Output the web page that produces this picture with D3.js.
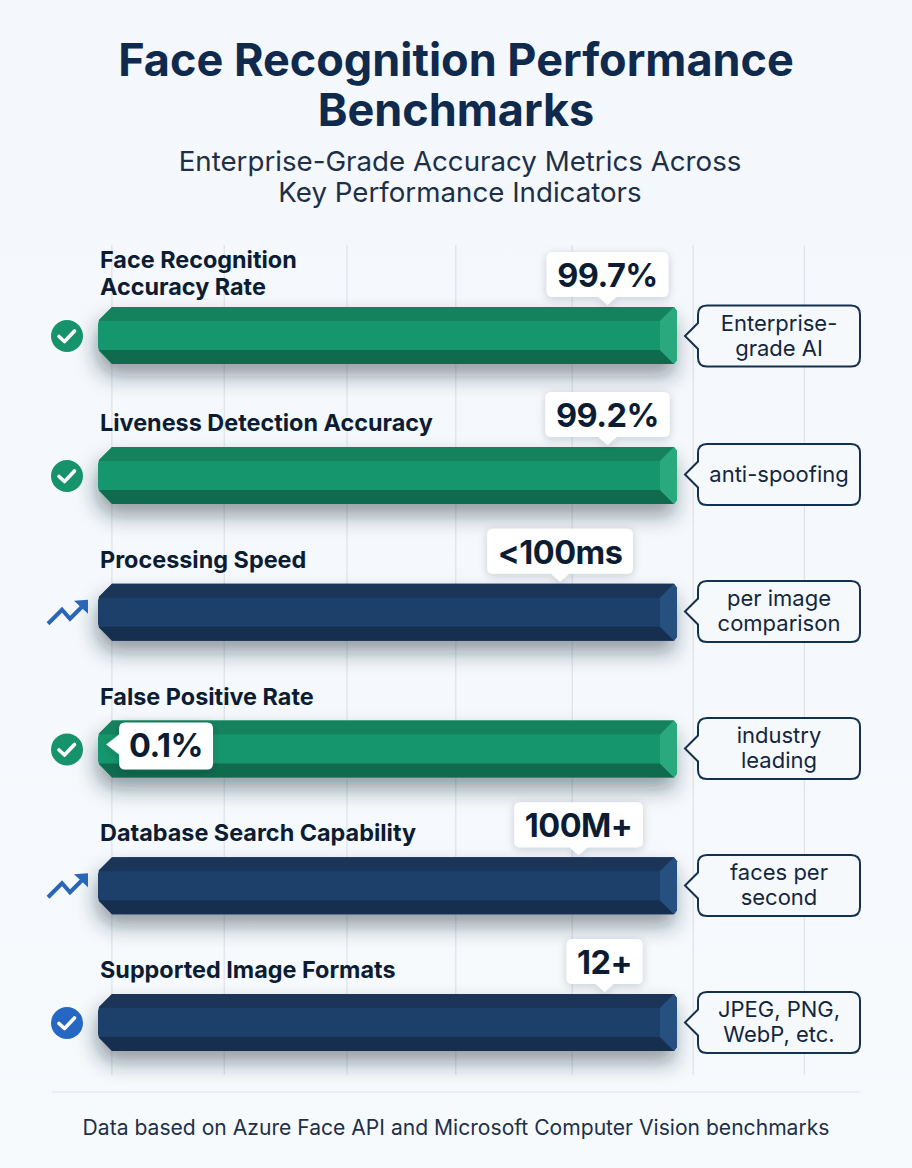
<!DOCTYPE html>
<html>
<head>
<meta charset="utf-8">
<script src="https://cdn.jsdelivr.net/npm/d3@7/dist/d3.min.js"></script>
<style>
  html, body { margin: 0; padding: 0; background: #f5f8fc; }
  svg { display: block; font-family: Inter, "Noto Sans", sans-serif; }
</style>
</head>
<body>
<div id="graph"></div>
<script>
// chart data
const titleLines = ["Face Recognition Performance", "Benchmarks"];
const subtitleLines = ["Enterprise-Grade Accuracy Metrics Across", "Key Performance Indicators"];
const categories = [
  ["Face Recognition", "Accuracy Rate"],
  ["Liveness Detection Accuracy"],
  ["Processing Speed"],
  ["False Positive Rate"],
  ["Database Search Capability"],
  ["Supported Image Formats"]
];
const barValues = [100, 100, 100, 100, 100, 100];
const valueLabels = ["99.7%", "99.2%", "<100ms", "0.1%", "100M+", "12+"];
const markerValues = [88, 88, 79.8, 1.4, 83, 87.5];
const barKinds = ["green", "green", "navy", "green", "navy", "navy"];
const iconKinds = ["checkGreen", "checkGreen", "trend", "checkGreen", "trend", "checkBlue"];
const notes = [
  ["Enterprise-", "grade AI"],
  ["anti-spoofing"],
  ["per image", "comparison"],
  ["industry", "leading"],
  ["faces per", "second"],
  ["JPEG, PNG,", "WebP, etc."]
];
const gridValues = [2.4, 21.8, 43, 61.8, 81.9, 102.8, 122];
const footerText = "Data based on Azure Face API and Microsoft Computer Vision benchmarks";

const width = 912, height = 1168;
const barHeight = 57, bevel = 14;

const x = d3.scaleLinear().domain([0, 100]).range([98, 677]);
const y = d3.scaleLinear().domain([0, 1, 5]).range([307, 447, 994]); // first gap is a bit wider
const yNote = d3.scaleLinear().domain([0, 1, 5]).range([336, 474.5, 1022.5]); // note boxes are spaced on their own

const colors = {
  green: { top: "#15825e", mid: "#17966c", bottom: "#0f6a4e", cap: "#2aa97f" },
  navy: { top: "#1b3558", mid: "#1e3f69", bottom: "#172f4f", cap: "#25507f" }
};
const ink = "#0f2a4d";

const svg = d3.select("#graph").append("svg")
  .attr("width", width)
  .attr("height", height)
  .attr("viewBox", [0, 0, width, height]);

const defs = svg.append("defs");
const bg = defs.append("linearGradient").attr("id", "bg")
  .attr("x1", 0).attr("y1", 0).attr("x2", 0).attr("y2", 1);
bg.append("stop").attr("offset", "0%").attr("stop-color", "#f4f7fb");
bg.append("stop").attr("offset", "100%").attr("stop-color", "#f7fafd");

const barShadow = defs.append("filter").attr("id", "barShadow")
  .attr("x", "-10%").attr("y", "-40%").attr("width", "120%").attr("height", "240%");
barShadow.append("feDropShadow").attr("dx", -2).attr("dy", 12).attr("stdDeviation", 10)
  .attr("flood-color", "#1c2a3c").attr("flood-opacity", 0.45);

const boxShadow = defs.append("filter").attr("id", "boxShadow")
  .attr("x", "-30%").attr("y", "-40%").attr("width", "160%").attr("height", "190%");
boxShadow.append("feDropShadow").attr("dx", 0).attr("dy", 2).attr("stdDeviation", 4)
  .attr("flood-color", "#10233c").attr("flood-opacity", 0.2);

svg.append("rect").attr("width", width).attr("height", height).attr("fill", "url(#bg)");

// title block
svg.append("g").selectAll("text").data(titleLines).join("text")
  .attr("x", width / 2)
  .attr("y", (d, i) => 76 + i * 50)
  .attr("text-anchor", "middle")
  .attr("font-size", 45)
  .attr("font-weight", 700)
  .attr("fill", ink)
  .text(d => d);

svg.append("g").selectAll("text").data(subtitleLines).join("text")
  .attr("x", width / 2 + 4)
  .attr("y", (d, i) => 171 + i * 31)
  .attr("text-anchor", "middle")
  .attr("font-size", 27.7)
  .attr("fill", "#1d3047")
  .text(d => d);

// background grid
svg.append("g").selectAll("line").data(gridValues).join("line")
  .attr("x1", d => x(d)).attr("x2", d => x(d))
  .attr("y1", 245).attr("y2", 1075)
  .attr("stroke", "#dde2e9")
  .attr("stroke-width", 1.2);

const rows = categories.map((c, i) => ({
  label: c,
  value: barValues[i],
  text: valueLabels[i],
  marker: markerValues[i],
  kind: barKinds[i],
  icon: iconKinds[i],
  note: notes[i],
  noteY: yNote(i),
  top: y(i)
}));

const row = svg.append("g").selectAll("g").data(rows).join("g")
  .attr("transform", d => `translate(0,${d.top})`);

// bars: flat face plus bevels
row.each(function(d) {
  const g = d3.select(this);
  const c = colors[d.kind];
  const x0 = x(0), x1 = x(d.value);
  const h = barHeight, b = bevel;
  const pts = p => p.map(q => q.join(",")).join(" ");
  const bar = g.append("g").attr("filter", "url(#barShadow)");
  bar.append("polygon").attr("fill", c.mid)
    .attr("points", pts([[x0 + b, 0], [x1 - 3, 0], [x1, 4], [x1, h - 4], [x1 - 3, h], [x0 + b, h], [x0 + 1, h - b + 1], [x0, h - b - 3], [x0, b + 3], [x0 + 1, b - 1]]));
  g.append("polygon").attr("fill", c.top)
    .attr("points", pts([[x0 + 1, b - 1], [x0 + b, 0], [x1 - 3, 0], [x1 - 17, b], [x0 + 1, b]]));
  g.append("polygon").attr("fill", c.bottom)
    .attr("points", pts([[x0 + 1, h - b], [x1 - 17, h - b], [x1 - 3, h], [x0 + b, h]]));
  g.append("polygon").attr("fill", c.cap)
    .attr("points", pts([[x1 - 3, 0], [x1, 4], [x1, h - 4], [x1 - 3, h], [x1 - 17, h - b], [x1 - 17, b]]));
});

// category labels above bars
row.each(function(d) {
  const n = d.label.length;
  d3.select(this).selectAll("text.cat").data(d.label).join("text")
    .attr("class", "cat")
    .attr("x", 100)
    .attr("y", (t, i) => (n > 1 ? -12 : -16) - (n - 1 - i) * 27)
    .attr("font-size", 23.4)
    .attr("font-weight", 700)
    .attr("fill", "#0c1c33")
    .text(t => t);
});

// left icons
row.each(function(d) {
  const g = d3.select(this).append("g").attr("transform", `translate(67,${barHeight / 2 + 0.5})`);
  if (d.icon === "trend") {
    g.append("path")
      .attr("d", d3.line()([[-19, 11], [-5, -3], [3, 6], [16, -7]]))
      .attr("fill", "none").attr("stroke", "#2a66b8").attr("stroke-width", 4);
    g.append("path").attr("d", "M7,-12L21,-13L21,1Z").attr("fill", "#2a66b8");
  } else {
    g.append("circle").attr("r", 16)
      .attr("fill", d.icon === "checkBlue" ? "#2468c4" : "#17936b");
    g.append("path")
      .attr("d", d3.line()([[-8, 0.5], [-2.5, 5.5], [7.5, -5]]))
      .attr("fill", "none").attr("stroke", "#fff").attr("stroke-width", 3.6)
      .attr("stroke-linecap", "round").attr("stroke-linejoin", "round");
  }
});

// note callouts on the right
row.each(function(d) {
  const g = d3.select(this).append("g").attr("transform", `translate(698,${d.noteY - d.top})`);
  const w = 162, hh = 30.5, r = 9;
  g.append("path")
    .attr("d", `M${r},${-hh}H${w - r}Q${w},${-hh} ${w},${-hh + r}V${hh - r}Q${w},${hh} ${w - r},${hh}H${r}Q0,${hh} 0,${hh - r}V13L-13,0L0,-13V${-hh + r}Q0,${-hh} ${r},${-hh}Z`)
    .attr("fill", "#f6f9fc")
    .attr("stroke", "#14304f")
    .attr("stroke-width", 2);
  const n = d.note.length;
  g.selectAll("text").data(d.note).join("text")
    .attr("x", w / 2)
    .attr("y", (t, i) => 7 + (i - (n - 1) / 2) * 25)
    .attr("text-anchor", "middle")
    .attr("font-size", 22)
    .attr("fill", "#14263c")
    .text(t => t);
});

// value callouts: centered above the marker, or beside it when marker is near zero
row.each(function(d) {
  const g = d3.select(this).append("g");
  const label = g.append("text")
    .attr("font-size", 32.5)
    .attr("font-weight", 700)
    .attr("letter-spacing", -0.5)
    .attr("fill", "#0c1c33")
    .text(d.text);
  const tw = label.node().getComputedTextLength();
  const mx = x(d.marker);
  const r = 6;
  if (d.marker < 10) {
    const left = mx + 13, right = left + tw + 20, top = 2, bottom = 49, midY = 24;
    label.attr("x", left + 10).attr("y", midY + 12);
    g.insert("path", "text")
      .attr("d", `M${left + r},${top}H${right - r}Q${right},${top} ${right},${top + r}V${bottom - r}Q${right},${bottom} ${right - r},${bottom}H${left + r}Q${left},${bottom} ${left},${bottom - r}V${midY + 10}L${left - 13},${midY}L${left},${midY - 10}V${top + r}Q${left},${top} ${left + r},${top}Z`)
      .attr("fill", "#fff")
      .attr("filter", "url(#boxShadow)");
  } else {
    const bw = tw + 21, left = mx - bw / 2, right = left + bw, top = -55, bottom = -10;
    label.attr("x", left + 10.5).attr("y", -20);
    g.insert("path", "text")
      .attr("d", `M${left + r},${top}H${right - r}Q${right},${top} ${right},${top + r}V${bottom - r}Q${right},${bottom} ${right - r},${bottom}H${mx + 9}L${mx},${bottom + 8}L${mx - 9},${bottom}H${left + r}Q${left},${bottom} ${left},${bottom - r}V${top + r}Q${left},${top} ${left + r},${top}Z`)
      .attr("fill", "#fff")
      .attr("filter", "url(#boxShadow)");
  }
});

// footer
svg.append("line")
  .attr("x1", 52).attr("x2", 860)
  .attr("y1", 1092).attr("y2", 1092)
  .attr("stroke", "#dde2e9")
  .attr("stroke-width", 1.2);

svg.append("text")
  .attr("x", width / 2)
  .attr("y", 1135)
  .attr("text-anchor", "middle")
  .attr("font-size", 21.1)
  .attr("fill", "#1d3047")
  .text(footerText);
</script>
</body>
</html>
